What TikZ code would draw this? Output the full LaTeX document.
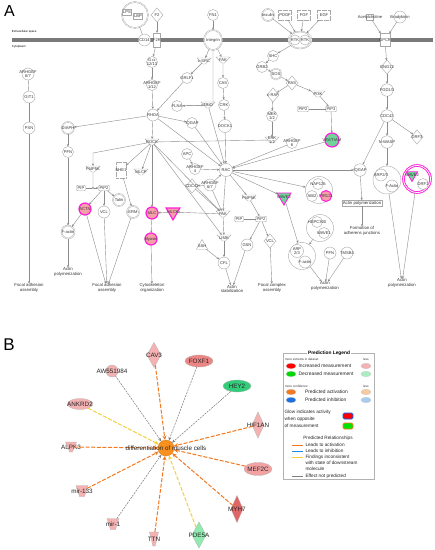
\documentclass[tikz,border=0pt]{standalone}
\usepackage{fontspec}
\setmainfont{Liberation Sans}
\usetikzlibrary{shapes.geometric,arrows.meta,calc}
\definecolor{mag}{HTML}{FF1FD8}
\definecolor{pinkA}{HTML}{F5A0A8}
\definecolor{greenA}{HTML}{6FD39A}
\definecolor{lg}{HTML}{A8A8A8}
\definecolor{lk}{HTML}{8C8C8C}
\definecolor{pk}{HTML}{F5B2B2}
\definecolor{pk2}{HTML}{F2A2A2}
\definecolor{pkd}{HTML}{EE8585}
\definecolor{rd}{HTML}{E06666}
\definecolor{gn}{HTML}{33CC7A}
\definecolor{gnl}{HTML}{90EBB0}
\definecolor{orc}{HTML}{F7901E}
\definecolor{ore}{HTML}{F47920}
\definecolor{yle}{HTML}{F4D03F}
\definecolor{gye}{HTML}{808080}
\definecolor{lorange}{HTML}{F9C9A0}
\definecolor{lblue}{HTML}{A8CCF0}
\definecolor{blu}{HTML}{1E6FE0}
\definecolor{lgreen}{HTML}{A8EEC0}
\newcommand\nd[4]{\node[#1,label={[tx]center:#4}] (#2) at (#3) {\fontsize{2}{2}\selectfont\phantom{i}};}
\newcommand\ndb[4]{\node[#1,label={[bl]center:#4}] (#2) at (#3) {\fontsize{2}{2}\selectfont\phantom{i}};}
\begin{document}
\begin{tikzpicture}[x=1pt,y=-1pt,
 every node/.style={inner sep=0pt,outer sep=0pt},
 tx/.style={font=\fontsize{4.1}{4.3}\selectfont,align=center,text=black!80},
 proc/.style={font=\fontsize{4.3}{4.7}\selectfont,align=center,text=black!80},
 gc/.style={circle,draw=lg,line width=0.4pt,fill=white,minimum size=12.5pt},
 gcd/.style={gc,double=white,double distance=0.5pt},
 gel/.style={ellipse,draw=lg,line width=0.4pt,fill=white},
 gd/.style={diamond,draw=lg,line width=0.4pt,fill=white,minimum width=12pt,minimum height=14pt},
 gtz/.style={trapezium,trapezium angle=60,shape border rotate=180,draw=lg,line width=0.4pt,fill=white,minimum width=14pt,minimum height=6pt,trapezium stretches=true},
 gr/.style={rectangle,draw=lg,line width=0.4pt,fill=white,minimum width=11pt,minimum height=6pt},
 grr/.style={gr,rounded corners=1pt},
 gdash/.style={gr,dash pattern=on 0.7pt off 0.5pt,minimum width=13pt,minimum height=10pt},
 gtri/.style={regular polygon,regular polygon sides=3,shape border rotate=180,draw=lg,line width=0.4pt,fill=white,minimum size=14pt},
 mc/.style={circle,draw=mag,line width=1.2pt,fill=pinkA,minimum size=12pt},
 mtri/.style={regular polygon,regular polygon sides=3,shape border rotate=180,draw=mag,line width=1.1pt,fill=pinkA,minimum size=16pt},
 ar/.style={draw=lk,line width=0.4pt,-{Stealth[length=2.6pt,width=2.2pt]}},
 ln/.style={draw=lk,line width=0.4pt},
 bl/.style={font=\fontsize{6.3}{7}\selectfont,text=black!85},
 bdia/.style={diamond,draw=gray!60,line width=0.3pt,minimum width=14pt,minimum height=25pt},
 bell/.style={ellipse,draw=gray!60,line width=0.3pt,minimum width=28pt,minimum height=12pt},
 bcir/.style={circle,draw=gray!60,line width=0.3pt,minimum size=12pt},
 btz/.style={trapezium,trapezium angle=65,shape border rotate=180,draw=gray!60,line width=0.3pt,minimum width=11pt,minimum height=10pt,trapezium stretches=true},
 bmir/.style={trapezium,trapezium angle=78,shape border rotate=180,draw=gray!60,line width=0.3pt,minimum width=12pt,minimum height=11pt,trapezium stretches=true},
 oe/.style={draw=ore,line width=1pt,dash pattern=on 4pt off 1.6pt,-{Stealth[length=4.5pt,width=4pt]}},
 ye/.style={draw=yle,line width=1pt,dash pattern=on 4pt off 1.6pt,-{Stealth[length=4.5pt,width=4pt]}},
 ge/.style={draw=gye,line width=0.55pt,dash pattern=on 2pt off 1pt,-{Stealth[length=3.5pt,width=3pt]}},
 lt/.style={font=\fontsize{4.9}{5.4}\selectfont,text=black!85,anchor=west},
 lsm/.style={font=\fontsize{3.1}{3.4}\selectfont,text=black!80},
 lel/.style={ellipse,minimum width=10pt,minimum height=5.5pt,draw=gray!50,line width=0.2pt},
]
\fill[white] (0,0) rectangle (435,550);
\useasboundingbox (0,0) rectangle (435,550);
%================ PANEL A =================
\node[font=\fontsize{16}{16}\selectfont] (labA) at (9.5,11) {A};
\fill[gray!70!black!80] (12,37.6) rectangle (433,41.8);
\node[anchor=west,font=\fontsize{2.9}{3}\selectfont] (ecs) at (12,32) {Extracellular space};
\node[anchor=west,font=\fontsize{2.9}{3}\selectfont] (cyt) at (12,47) {Cytoplasm};
% top ligands / receptors
\nd{gcd,minimum size=26pt}{lpsc}{135,15}{}
\nd{gr,minimum width=9pt,minimum height=6pt}{lps}{127,12}{LPS}
\nd{gr,minimum width=9pt,minimum height=6pt}{lbp}{138,16}{LBP}
\nd{gc,minimum size=12pt}{cd14}{144.5,40}{CD14}
\nd{gd}{f2}{157,15}{F2}
\nd{gr,minimum width=7pt,minimum height=14pt}{f2r}{157,40}{F2R}
\nd{gc,minimum size=11pt}{fn1}{213,15}{FN1}
\nd{gel,double=white,double distance=0.5pt,minimum width=18pt,minimum height=20pt}{itg}{213,40}{Integrin}
\nd{gcd,minimum size=12pt}{ins}{268,15}{Insulin}
\nd{gdash}{pdgf}{285,15}{PDGF}
\nd{gdash}{fgf}{304,15}{FGF}
\nd{gdash}{egf}{324,15}{EGF}
\nd{gel,double=white,double distance=0.5pt,minimum width=23pt,minimum height=17pt}{rtk}{300,40}{}
\nd{gc,minimum size=10pt}{rtka}{295,40}{RTK}
\nd{gc,minimum size=10pt}{rtkb}{305,40}{RTK}
\nd{gr,minimum width=7pt,minimum height=6pt}{ach}{370,17}{Acetylcholine}
\nd{gc,minimum size=12pt}{brk}{400,17}{Bradykinin}
\nd{gr,minimum width=10pt,minimum height=13pt}{gpcr}{385,40}{GPCR}
\nd{gd}{gng}{387,67}{GNG12}
\nd{gc}{fgd}{387,90}{FGD1/3}
\nd{gc}{cdcR}{387,116}{CDC42}
\nd{gc}{nwasp}{387,142}{N-WASP}
\nd{gd}{drf3}{417,137}{DRF3}
\nd{gc}{iqgR}{360,170}{IQGAP}
\nd{gc,minimum size=28pt}{arpR}{387,180}{}
\nd{gc,minimum size=12pt}{arpR1}{381,175}{ARP2/3}
\nd{gc,minimum size=12pt}{arpR2}{392,186}{F-Actin}
\node[circle,draw=mag,line width=0.9pt,double=white,double distance=0.8pt,fill=white,minimum size=27pt] (wdrf) at (417,179) {};
\nd{gtri,fill=greenA,draw=mag,line width=0.8pt,minimum size=13pt}{wav2b}{412,175}{WAVE2}
\nd{gc,minimum size=11pt}{drf1}{423,184}{DRF1}
\node[proc,draw=lg,line width=0.3pt,fill=white,inner sep=0.8pt] (apR1) at (362,203) {Actin polymerization};
\node[proc] (faj) at (362,231) {Formation of\\adherens junctions};
\node[proc] (apR2) at (402,283) {Actin\\polymerization};
% RTK pathway
\nd{gc,minimum size=11pt}{shc}{273,56}{SHC}
\nd{gc,minimum size=11pt}{grb2}{262,67}{GRB2}
\nd{gcd,minimum size=11pt}{sos}{276,74}{SOS}
\nd{gd}{ras}{292,83}{RAS}
\nd{gd}{craf}{273,95}{c-RAF}
\nd{gtz}{pi3k}{318,94}{PI3K}
\nd{grr,minimum width=11pt,minimum height=5.5pt}{pip2R}{303,109}{PIP2}
\nd{grr,minimum width=11pt,minimum height=5.5pt}{pip3R}{331,109}{PIP3}
\nd{gc,minimum size=11pt}{mek}{272,116}{MEK\\1/2}
\nd{gtz}{erk}{272,140}{ERK\\1/2}
\nd{gc,minimum size=11pt}{arh6}{292,143}{ARHGEF\\6}
\nd{mc,fill=greenA,minimum size=14pt}{vav}{332,140}{VAV/TIAM}
% integrin / GPCR left
\nd{gc,minimum size=11pt}{gi}{152,62}{G\ensuremath{\alpha}\\12/13}
\nd{gc,minimum size=11pt}{arh112}{152,85}{ARHGEF\\1/12}
\nd{gtz}{csrc}{204,61}{c-SRC}
\nd{gtz}{fak}{223,60}{FAK}
\nd{gc,minimum size=11pt}{grlf1}{187,78}{GRLF1}
\nd{gc,minimum size=11pt}{cas}{223,83}{CAS}
\nd{gc,minimum size=11pt}{crk}{224,105}{CRK}
\nd{gc,minimum size=11pt}{flna}{177,106}{FLNA}
\nd{gtz}{trio}{208,105}{TRIO}
\nd{gc,minimum size=12pt}{rhoa}{153,115}{RHOA}
\nd{gc,minimum size=11pt}{iqgL}{192,123}{IQGAP}
\nd{gc,minimum size=13pt}{dock1}{225,126}{DOCK1}
\nd{gtz}{rock}{152,142}{ROCK}
\nd{gc,minimum size=11pt}{apc}{187,154}{APC}
\nd{gc,minimum size=11pt}{arh4}{195,169}{ARHGEF\\4}
\nd{gc,minimum size=13pt}{rac}{226,170}{RAC}
\nd{gd}{cdc42L}{192,186}{CDC42}
\nd{gc,minimum size=12pt}{arh67c}{210,185}{ARHGEF\\6/7}
\nd{gtz}{pi4C}{249,198}{PI4P5K}
\nd{gtri,fill=greenA,draw=mag,line width=0.9pt,minimum size=16pt}{wave2}{284,197}{WAVE2}
\nd{gtz}{pak}{223,214}{PAK}
\nd{mc}{mlc}{152,213}{MLC}
\nd{mtri}{mlck}{173,212}{MLCK}
\nd{mc}{myosin}{151,239}{Myosin}
\node[proc] (cyto) at (152,288) {Cytoskeleton\\organization};
\nd{grr,minimum width=9pt,minimum height=5.5pt}{pipC}{239,219}{PIP}
\nd{grr,minimum width=11pt,minimum height=5.5pt}{pip2C}{261,219}{PIP2}
\nd{gtz}{limk}{224,238}{LIMK}
\nd{gtri,shape border rotate=0,minimum size=13pt}{ssh}{202,246}{SSH}
\nd{gc,minimum size=12pt}{cfl}{224,263}{CFL}
\nd{gc,minimum size=12pt}{gsn}{247,245}{GSN}
\nd{gd}{vclC}{270,241}{VCL}
\node[proc] (astab) at (232,289) {Actin\\stabilization};
\node[proc] (fca) at (272,288) {Focal complex\\assembly};
% WAVE complexes
\nd{gc,minimum size=27pt}{nap}{319,190}{}
\nd{gc,minimum size=11pt}{nap1}{318,184}{NAP125}
\nd{gc,minimum size=11pt}{abi2}{312,196}{ABI2}
\nd{mc,minimum size=11pt,line width=1pt}{pir}{326,196}{PIR121}
\nd{gc,minimum size=27pt}{hspc}{320,228}{}
\nd{gc,minimum size=11pt}{hspc1}{317,222}{HSPC300}
\nd{gc,minimum size=11pt}{wave1}{324,233}{WAVE1}
\nd{gc,minimum size=27pt}{arpL}{302,256}{}
\nd{gc,minimum size=13pt}{arpL1}{297,251}{ARP\\2/3}
\nd{gc,minimum size=12pt}{arpL2}{305,262}{F-actin}
\nd{gc,minimum size=12pt}{pfnR}{330,253}{PFN}
\nd{gc,minimum size=12pt}{tmsb}{347,253}{TMSB4}
\node[proc] (apL) at (325,286) {Actin\\polymerization};
% left column
\nd{gc,minimum size=12pt}{arh67}{28,74}{ARHGEF\\6/7}
\nd{gc,minimum size=12pt}{git1}{29,97}{GIT1}
\nd{gc,minimum size=12pt}{pxn}{29,128}{PXN}
\node[proc] (faa1) at (29,288) {Focal adhesion\\assembly};
\nd{gcd,minimum size=12pt}{diaph}{68,128}{DIAPH}
\nd{gc,minimum size=11pt}{pfnL}{68,152}{PFN}
\nd{gcd,minimum size=13pt}{factL}{68,232}{F-actin}
\node[proc] (apL2) at (68,272) {Actin\\polymerization};
\nd{gtz}{pi4L}{93,169}{PI4P5K}
\nd{gr,dash pattern=on 0.7pt off 0.5pt,minimum width=10pt,minimum height=16pt}{nhe1}{121,170}{NHE1}
\nd{gtz}{mlcp}{141,172}{MLCP}
\nd{grr,minimum width=9pt,minimum height=5.5pt}{pipL}{81,188}{PIP}
\nd{grr,minimum width=11pt,minimum height=5.5pt}{pip2L}{104,188}{PIP2}
\node[circle,draw=lk,line width=0.35pt,fill=white,minimum size=2.2pt] (rxL) at (93,188) {};
\nd{gcd,minimum size=12pt}{talin}{119,200}{Talin}
\nd{mc}{actn}{85,209}{ACTN}
\nd{gc,minimum size=12pt}{vclL}{104,212}{VCL}
\nd{gcd,minimum size=12pt}{erm}{133,212}{ERM}
\node[proc] (faa2) at (107,288) {Focal adhesion\\assembly};
% ---- edges A ----
\draw[ln] (lpsc) -- (cd14);
\draw[ar] (f2) -- (f2r);
\draw[ar] (fn1) -- (itg);
\foreach \s in {ins,pdgf,fgf,egf} \draw[ar] (\s) -- (rtk);
\draw[ar] (ach) -- (gpcr);
\draw[ar] (brk) -- (gpcr);
\draw[ar] (gpcr) -- (gng);
\draw[ar] (gng) -- (fgd);
\draw[ar] (fgd) -- (cdcR);
\draw[ar] (cdcR) -- (nwasp);
\draw[ar] (cdcR) -- (drf3);
\draw[ar] (cdcR) -- (iqgR);
\draw[ar] (nwasp) -- (arpR);
\draw[ar] (arpR) -- (apR2);
\draw[ar] (wdrf) -- (apR2);
\draw[ar] (iqgR) -- (apR1);
\draw[ar] (apR1) -- (faj);
\draw[ar] (rac) -- (iqgR);
\draw[ar] (rtk) -- (shc);
\draw[ar] (shc) -- (grb2);
\draw[ar] (grb2) -- (sos);
\draw[ar] (sos) -- (ras);
\draw[ar] (ras) -- (craf);
\draw[ar] (craf) -- (mek);
\draw[ar] (mek) -- (erk);
\draw[ar] (ras) -- (pi3k);
\draw[ar] (pi3k) -- (pip3R);
\draw[ln] (pip2R) -- (pip3R);
\draw[ar] (pip3R) -- (vav);
\draw[ar] (vav) -- (rac);
\draw[ar] (arh6) -- (rac);
\draw[ln] (rock) -- (erk);
\draw[ar] (f2r) -- (gi);
\draw[ar] (gi) -- (arh112);
\draw[ar] (arh112) -- (rhoa);
\draw[ar] (itg) -- (csrc);
\draw[ar] (itg) -- (fak);
\draw[ar] (fak) -- (cas);
\draw[ar] (cas) -- (crk);
\draw[ar] (crk) -- (dock1);
\draw[ar] (dock1) -- (rac);
\draw[ar] (csrc) -- (grlf1);
\draw[ar] (grlf1) -- (rhoa);
\draw[ar] (itg.south) -- ($(itg.south)+(0,55)$) -- (flna);
\draw[ar] (flna) -- (trio);
\draw[ar] (trio) -- (rac);
\draw[ar] (rhoa) -- (rock);
\draw[ar] (rhoa) -- (diaph);
\draw[ar] (rhoa) -- (iqgL);
\draw[ar] (rhoa) -- (rac);
\draw[ar] (iqgL) -- (rac);
\draw[ar] (diaph) -- (pfnL);
\draw[ar] (pfnL) -- (factL);
\draw[ar] (factL) -- (apL2);
\draw[ar] (rock) -- (mlc);
\draw[ar] (rock) -- (mlcp);
\draw[ar] (rock) -- (nhe1);
\draw[ar] (rock) -- (limk);
\draw[ar] (rock) -- (pak);
\draw[ar] (rock) -- (93,153) -- (pi4L);
\draw[ar] (mlck) -- (mlc);
\draw[ar] (pak) -- (mlck);
\draw[ar] (mlc) -- (myosin);
\draw[ar] (myosin) -- (cyto);
\draw[ln] (pi4L) -- (rxL);
\draw[ln] (pipL) -- (rxL);
\draw[ar] (rxL) -- (pip2L);
\draw[ar] (pip2L) -- (actn);
\draw[ar] (pip2L) -- (vclL);
\draw[ar] (pip2L) -- (talin);
\draw[ar] (actn) -- (factL);
\draw[ar] (actn) -- (faa2);
\draw[ar] (vclL) -- (faa2);
\draw[ar] (erm) -- (faa2);
\draw[ar] (nhe1) -- (erm);
\draw[ln] (arh67) -- (git1);
\draw[ln] (git1) -- (pxn);
\draw[ar] (pxn) -- (faa1);
\draw[ar] (apc) -- (arh4);
\draw[ar] (arh4) -- (rac);
\draw[ar] (arh67c) -- (rac);
\draw[ar] (arh67c) -- (cdc42L);
\draw[ar] (cdc42L) -- (pak);
\draw[ar] (arh67c) -- (pak);
\draw[ar] (rac) -- (pak);
\draw[ar] (rac) -- (pi4C);
\draw[ar] (rac) -- (wave2);
\draw[ar] (rac) -- (nap);
\draw[ar] (pak) -- (limk);
\draw[ar] (limk) -- (cfl);
\draw[ar] (ssh) -- (cfl);
\draw[ar] (cfl) -- (astab);
\draw[ar] (gsn) -- (astab);
\draw[ar] (pip2C) -- (gsn);
\draw[ar] (pip2C) -- (vclC);
\draw[ar] (vclC) -- (fca);
\draw[ln] (pipC) -- (pip2C);
\draw[ar] (pi4C) -- (pip2C);
\draw[ar] (wave2) -- (arpL);
\draw[ar] (hspc) -- (arpL);
\draw[ar] (arpL) -- (apL);
\draw[ar] (pfnR) -- (apL);
\draw[ar] (tmsb) -- (apL);
%================ PANEL B =================
\node[font=\fontsize{17}{17}\selectfont] (labB) at (9,345) {B};
\ndb{bdia,fill=pk}{cav3}{154,355}{CAV3}
\ndb{bell,fill=pkd}{foxf1}{199,361}{FOXF1}
\ndb{bcir,fill=pk}{aw}{112,371}{AW551984}
\ndb{bell,fill=pk,minimum width=25pt,minimum height=11pt}{ankrd2}{80,404}{ANKRD2}
\ndb{btz,fill=pk}{alpk3}{71,447}{ALPK3}
\ndb{bmir,fill=pk}{mir133}{82,491}{mir-133}
\ndb{bmir,fill=pk}{mir1}{113,524}{mir-1}
\ndb{btz,fill=pk,minimum height=14pt,minimum width=9pt}{ttn}{154,539}{TTN}
\ndb{bdia,fill=gnl,minimum height=26pt}{pde5a}{199,535}{PDE5A}
\ndb{bell,fill=gn}{hey2}{237,386}{HEY2}
\ndb{bdia,fill=pk,minimum width=12pt,minimum height=26pt}{hif1an}{258,425}{HIF1AN}
\ndb{bell,fill=pk2,minimum height=13pt}{mef2c}{258,469}{MEF2C}
\ndb{bdia,fill=rd,minimum width=12pt,minimum height=27pt}{myh7}{237,509}{MYH7}
\node[circle,fill=orc,draw=orc!85!black,line width=0.3pt,minimum size=16pt] (ctr) at (166,448) {};
\draw[oe] (cav3) -- (ctr);
\draw[ge] (foxf1) -- (ctr);
\draw[ge] (aw) -- (ctr);
\draw[ye] (ankrd2) -- (ctr);
\draw[oe] (alpk3) -- (ctr);
\draw[oe] (mir133) -- (ctr);
\draw[ge] (mir1) -- (ctr);
\draw[oe] (ttn) -- (ctr);
\draw[ye] (pde5a) -- (ctr);
\draw[ge] (hey2) -- (ctr);
\draw[oe] (hif1an) -- (ctr);
\draw[oe] (mef2c) -- (ctr);
\draw[oe] (myh7) -- (ctr);
\node[bl] (ctrl) at (166,448) {differentiation of muscle cells};
% legend
\draw[draw=gray!60,line width=0.6pt] (283,353) rectangle (374,479);
\node[fill=white,font=\bfseries\fontsize{4.8}{5}\selectfont,inner sep=0.7pt] (lgt) at (329,353) {Prediction Legend};
\node[lsm,anchor=west] (lm1) at (285,359) {more extreme in dataset};
\node[lsm] (lm2) at (366,359) {less};
\node[lel,fill=red] (e1) at (291,366) {};
\node[lt] (t1) at (298.5,366) {Increased measurement};
\node[lel,fill=pk] (e1b) at (366,366) {};
\node[lel,fill=green!85!black] (e2) at (291,374) {};
\node[lt] (t2) at (298.5,374) {Decreased measurement};
\node[lel,fill=lgreen] (e2b) at (366,374) {};
\node[lsm,anchor=west] (lm3) at (285,386) {more confidence};
\node[lsm] (lm4) at (366,386) {less};
\node[lel,fill=ore] (e3) at (291,392) {};
\node[lt] (t3) at (305,392) {Predicted activation};
\node[lel,fill=lorange] (e3b) at (366,392) {};
\node[lel,fill=blu] (e4) at (291,400) {};
\node[lt] (t4) at (305,400) {Predicted inhibition};
\node[lel,fill=lblue] (e4b) at (366,400) {};
\node[lt,align=left,anchor=north west,font=\fontsize{4.7}{6.9}\selectfont] (t5) at (284.5,410.3) {Glow indicates activity\\when opposite\\of measurement};
\node[rectangle,rounded corners=1.5pt,fill=red,draw=blue!60!cyan,line width=0.9pt,minimum width=10pt,minimum height=6pt] (g1) at (348,416) {};
\node[rectangle,rounded corners=1.5pt,fill=green!90!black,draw=ore,line width=0.9pt,minimum width=10pt,minimum height=6pt] (g2) at (348,426) {};
\node[font=\fontsize{4.7}{5}\selectfont,text=black!85] (t6) at (328,438) {Predicted Relationships};
\coordinate (la1) at (292,445); \coordinate (lb1) at (303,445);
\coordinate (la2) at (292,451); \coordinate (lb2) at (303,451);
\coordinate (la3) at (292,457); \coordinate (lb3) at (303,457);
\coordinate (la4) at (292,476); \coordinate (lb4) at (303,476);
\draw[ore,line width=0.8pt] (la1) -- (lb1);
\draw[blu!80!cyan,line width=0.8pt] (la2) -- (lb2);
\draw[yle,line width=0.8pt] (la3) -- (lb3);
\draw[gye,line width=0.8pt] (la4) -- (lb4);
\node[lt,font=\fontsize{4.7}{5}\selectfont] (t7) at (305.5,445) {Leads to activation};
\node[lt,font=\fontsize{4.7}{5}\selectfont] (t8) at (305.5,451) {Leads to inhibition};
\node[lt,font=\fontsize{4.7}{6}\selectfont,align=left,anchor=north west] (t9) at (305.5,454.8) {Findings inconsistent\\with state of downstream\\molecule};
\node[lt,font=\fontsize{4.7}{5}\selectfont] (t10) at (305.5,476) {Effect not predicted};
\end{tikzpicture}
\end{document}
